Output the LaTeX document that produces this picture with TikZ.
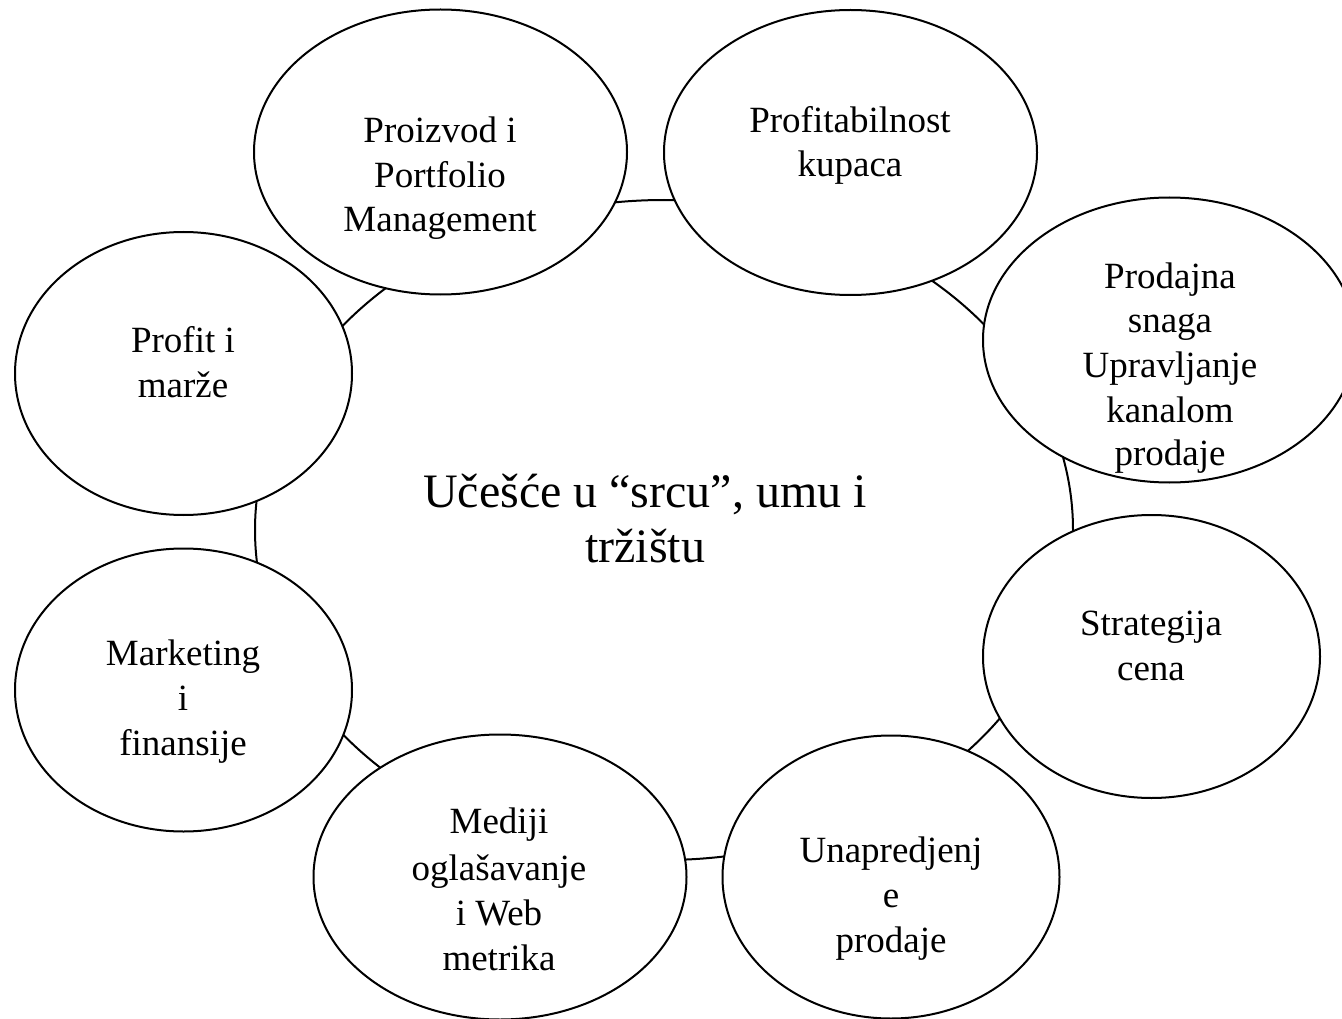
\documentclass[tikz,border=0pt]{standalone}
\usepackage{fontspec}
\setmainfont{Liberation Serif}
\usetikzlibrary{shapes.geometric}
\begin{document}
\begin{tikzpicture}[x=1pt,y=-1pt,line width=2pt,
  bub/.style={ellipse, draw, fill=white, inner sep=0pt, outer sep=0pt},
  bigbub/.style={bub, minimum width=373pt, minimum height=285pt},
  smallbub/.style={bub, minimum width=337pt, minimum height=283pt},
  lbl/.style={anchor=base, inner sep=0pt, font=\fontsize{37}{44}\selectfont},
  hublbl/.style={anchor=base, inner sep=0pt, font=\fontsize{48}{55}\selectfont}]
\useasboundingbox (0,0) rectangle (1342,1019);
% ring
\node[ellipse, draw, inner sep=0pt, minimum width=818pt, minimum height=660pt] (hub) at (664,530) {};
% bubbles
\node[bigbub] (e1) at (440.5,152) {};
\node[bigbub] (e2) at (850.5,152.5) {};
\node[bigbub] (e3) at (1169.5,340) {};
\node[smallbub] (e4) at (1151.5,656.5) {};
\node[smallbub] (e5) at (891,877) {};
\node[bigbub] (e6) at (500,877) {};
\node[smallbub] (e7) at (183.5,690) {};
\node[smallbub] (e8) at (183.5,373.5) {};
% labels
\node[lbl] (t1a) at (440,143) {Proizvod i};
\node[lbl] (t1b) at (440,188) {Portfolio};
\node[lbl] (t1c) at (440,232) {Management};
\node[lbl] (t2a) at (850,133) {Profitabilnost};
\node[lbl] (t2b) at (850,177) {kupaca};
\node[lbl] (t3a) at (1170,288) {Prodajna};
\node[lbl] (t3b) at (1170,332) {snaga};
\node[lbl] (t3c) at (1170,377) {Upravljanje};
\node[lbl] (t3d) at (1170,422) {kanalom};
\node[lbl] (t3e) at (1170,465) {prodaje};
\node[lbl] (t4a) at (1151,635) {Strategija};
\node[lbl] (t4b) at (1151,680) {cena};
\node[lbl] (t5a) at (891,862) {Unapredjenj};
\node[lbl] (t5b) at (891,907) {e};
\node[lbl] (t5c) at (891,952) {prodaje};
\node[lbl] (t6a) at (499,833) {Mediji};
\node[lbl] (t6b) at (499,880) {oglašavanje};
\node[lbl] (t6c) at (499,925) {i Web};
\node[lbl] (t6d) at (499,970) {metrika};
\node[lbl] (t7a) at (183,665) {Marketing};
\node[lbl] (t7b) at (183,710) {i};
\node[lbl] (t7c) at (183,755) {finansije};
\node[lbl] (t8a) at (183,352) {Profit i};
\node[lbl] (t8b) at (183,397) {marže};
\node[hublbl] (h1) at (645,507) {Učešće u “srcu”, umu i};
\node[hublbl] (h2) at (645,562) {tržištu};
\end{tikzpicture}
\end{document}
